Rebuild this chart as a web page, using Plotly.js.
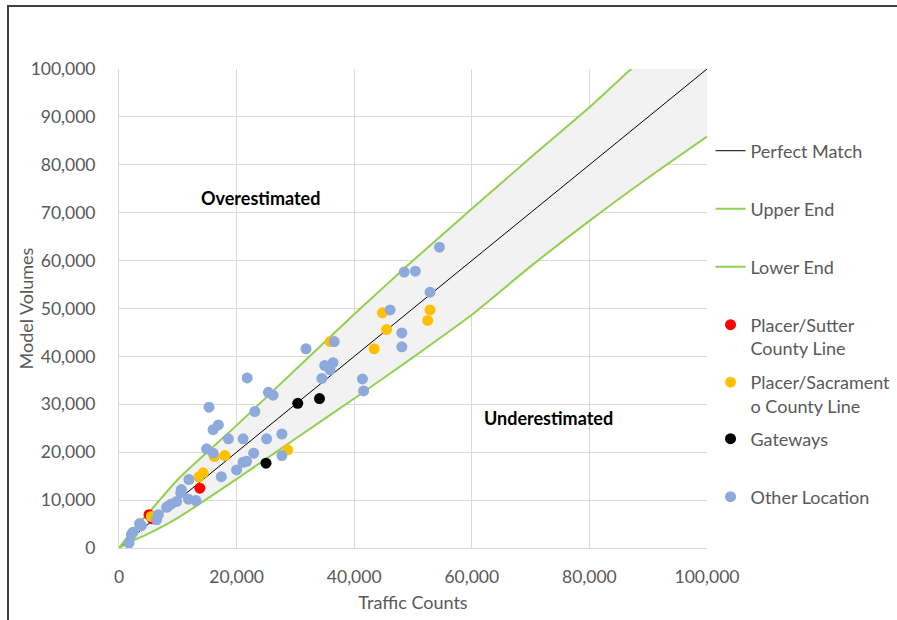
<!DOCTYPE html>
<html>
<head>
<meta charset="utf-8">
<script src="https://cdn.plot.ly/plotly-3.0.1.min.js"></script>
<style>
  html, body { margin: 0; padding: 0; background: #ffffff; overflow: hidden; }
  #chart { width: 897px; height: 620px; position: absolute; left: 0; top: 0; }
  #frame { position: absolute; left: 7px; top: 5px; width: 1000px; height: 1000px;
           border-left: 2px solid #404040; border-top: 2px solid #404040; pointer-events: none; }
</style>
</head>
<body>
<div id="chart"></div>
<div id="frame"></div>
<script>
// ---- Reference lines ----
const perfectX = [0, 100000];
const perfectY = [0, 100000];

const upperX = [0, 2500, 5000, 10000, 20000, 30000, 40000, 50000, 60000, 70000, 80000, 90000, 100000];
const upperY = [0, 4000, 7300, 14300, 25600, 37200, 48800, 60000, 70800, 81500, 92000, 103300, 113900];

const lowerX = [0, 2500, 5000, 10000, 20000, 30000, 40000, 50000, 60000, 70000, 80000, 90000, 100000];
const lowerY = [0, 1600, 3000, 6300, 14400, 22800, 31200, 39800, 48700, 58800, 68300, 77300, 85900];

// ---- Observations ----
const sutterX = [5100, 5700, 13750];
const sutterY = [6950, 6100, 12500];

const sacX = [5500, 13600, 14300, 16200, 18000, 28700, 35900, 43400, 44800, 45500, 52500, 52900];
const sacY = [6600, 14800, 15700, 19100, 19300, 20500, 43100, 41600, 49100, 45600, 47500, 49700];

const gateX = [25000, 30400, 34100];
const gateY = [17700, 30200, 31200];

const otherX = [1700, 2100, 2400, 3500, 3800, 6400, 6700, 8100, 8400, 8900, 9800, 10500, 10600, 11800, 11900,
  13100, 14900, 15300, 16000, 16000, 16900, 17400, 18600, 20000, 21100, 21100, 21700, 21800, 22900, 23100,
  25100, 25400, 26200, 27700, 27700, 31800, 34500, 35000, 35900, 36400, 36600, 41400, 41600, 46100, 48100,
  48100, 48500, 50400, 52900, 54500];
const otherY = [1000, 2800, 3300, 5100, 4650, 5900, 6950, 8500, 8800, 9200, 9700, 11500, 12200, 10200, 14300,
  9900, 20700, 29400, 24700, 19800, 25700, 14900, 22800, 16300, 22800, 17900, 18100, 35500, 19800, 28500,
  22800, 32500, 31900, 23800, 19300, 41600, 35400, 38100, 37200, 38700, 43100, 35300, 32800, 49700, 44900,
  42000, 57600, 57800, 53400, 62800];

const tickVals = [0, 20000, 40000, 60000, 80000, 100000];
const tickText = ['0', '20,000', '40,000', '60,000', '80,000', '100,000'];
const yTickVals = [0, 10000, 20000, 30000, 40000, 50000, 60000, 70000, 80000, 90000, 100000];
const yTickText = ['0', '10,000', '20,000', '30,000', '40,000', '50,000', '60,000', '70,000', '80,000', '90,000', '100,000'];

const FONT = 'Lato, "Liberation Sans", sans-serif';
const TXT = '#595959';
const GREEN = '#92D050';
const MS = 11;

// band polygon built from the two end curves
const bandX = upperX.concat(lowerX.slice().reverse());
const bandY = upperY.concat(lowerY.slice().reverse());

const traces = [
  { x: bandX, y: bandY, type: 'scatter', mode: 'none', fill: 'toself', fillcolor: '#F2F2F2',
    hoverinfo: 'skip', showlegend: false },
  { x: perfectX, y: perfectY, type: 'scatter', mode: 'lines', name: 'Perfect Match',
    line: { color: '#000000', width: 1 }, legend: 'legend' },
  { x: upperX, y: upperY, type: 'scatter', mode: 'lines', name: 'Upper End',
    line: { color: GREEN, width: 2, shape: 'spline', smoothing: 0.6 }, legend: 'legend2' },
  { x: lowerX, y: lowerY, type: 'scatter', mode: 'lines', name: 'Lower End',
    line: { color: GREEN, width: 2, shape: 'spline', smoothing: 0.6 }, legend: 'legend3' },
  { x: sutterX, y: sutterY, type: 'scatter', mode: 'markers', name: 'Placer/Sutter<br>County Line',
    marker: { color: '#FF0000', size: MS }, legend: 'legend4' },
  { x: sacX, y: sacY, type: 'scatter', mode: 'markers', name: 'Placer/Sacrament<br>o County Line',
    marker: { color: '#FFC000', size: MS }, legend: 'legend5' },
  { x: gateX, y: gateY, type: 'scatter', mode: 'markers', name: 'Gateways',
    marker: { color: '#000000', size: MS }, legend: 'legend6' },
  { x: otherX, y: otherY, type: 'scatter', mode: 'markers', name: 'Other Location',
    marker: { color: '#8EA9DB', size: MS }, legend: 'legend7' }
];

function leg(yc, valign) {
  return { x: 1.006, xanchor: 'left', y: yc, yanchor: 'middle', valign: valign || 'middle',
           font: { family: FONT, size: 18, color: TXT }, bgcolor: 'rgba(0,0,0,0)',
           itemwidth: 30, borderwidth: 0 };
}

const layout = {
  width: 897, height: 620,
  margin: { l: 119, r: 190, t: 69, b: 72, autoexpand: false },
  paper_bgcolor: '#ffffff', plot_bgcolor: '#ffffff',
  font: { family: FONT, size: 17.5, color: TXT },
  showlegend: true,
  legend: leg(0.8288),
  legend2: leg(0.7077),
  legend3: leg(0.5866),
  legend4: leg(0.4415, 'top'),
  legend5: leg(0.3215, 'top'),
  legend6: leg(0.2276),
  legend7: leg(0.1065),
  xaxis: {
    range: [0, 100000], tickvals: tickVals, ticktext: tickText, showgrid: true, gridcolor: '#D9D9D9',
    gridwidth: 1, zeroline: false, showline: true, linecolor: '#D9D9D9', linewidth: 1, mirror: false,
    ticks: '', ticklabelstandoff: 13, tickfont: { family: FONT, size: 17.5, color: TXT },
    title: { text: 'Traffic Counts', font: { family: FONT, size: 18, color: TXT }, standoff: 10 }
  },
  yaxis: {
    range: [0, 100000], tickvals: yTickVals, ticktext: yTickText, showgrid: true, gridcolor: '#D9D9D9',
    gridwidth: 1, zeroline: false, showline: true, linecolor: '#D9D9D9', linewidth: 1,
    ticks: '', ticklabelstandoff: 19, tickfont: { family: FONT, size: 17.5, color: TXT }
  },
  annotations: [
    { x: 0, y: 0.5, xref: 'paper', yref: 'paper', text: 'Model Volumes', textangle: -90, showarrow: false,
      xanchor: 'center', yanchor: 'middle', xshift: -94, font: { family: FONT, size: 18, color: TXT } },
    { x: 24000, y: 73100, xref: 'x', yref: 'y', text: '<b>Overestimated</b>', showarrow: false,
      font: { family: FONT, size: 18, color: '#000000' } },
    { x: 73000, y: 27200, xref: 'x', yref: 'y', text: '<b>Underestimated</b>', showarrow: false,
      font: { family: FONT, size: 18, color: '#000000' } }
  ]
};

Plotly.newPlot('chart', traces, layout, { displayModeBar: false, staticPlot: true });
</script>
</body>
</html>
